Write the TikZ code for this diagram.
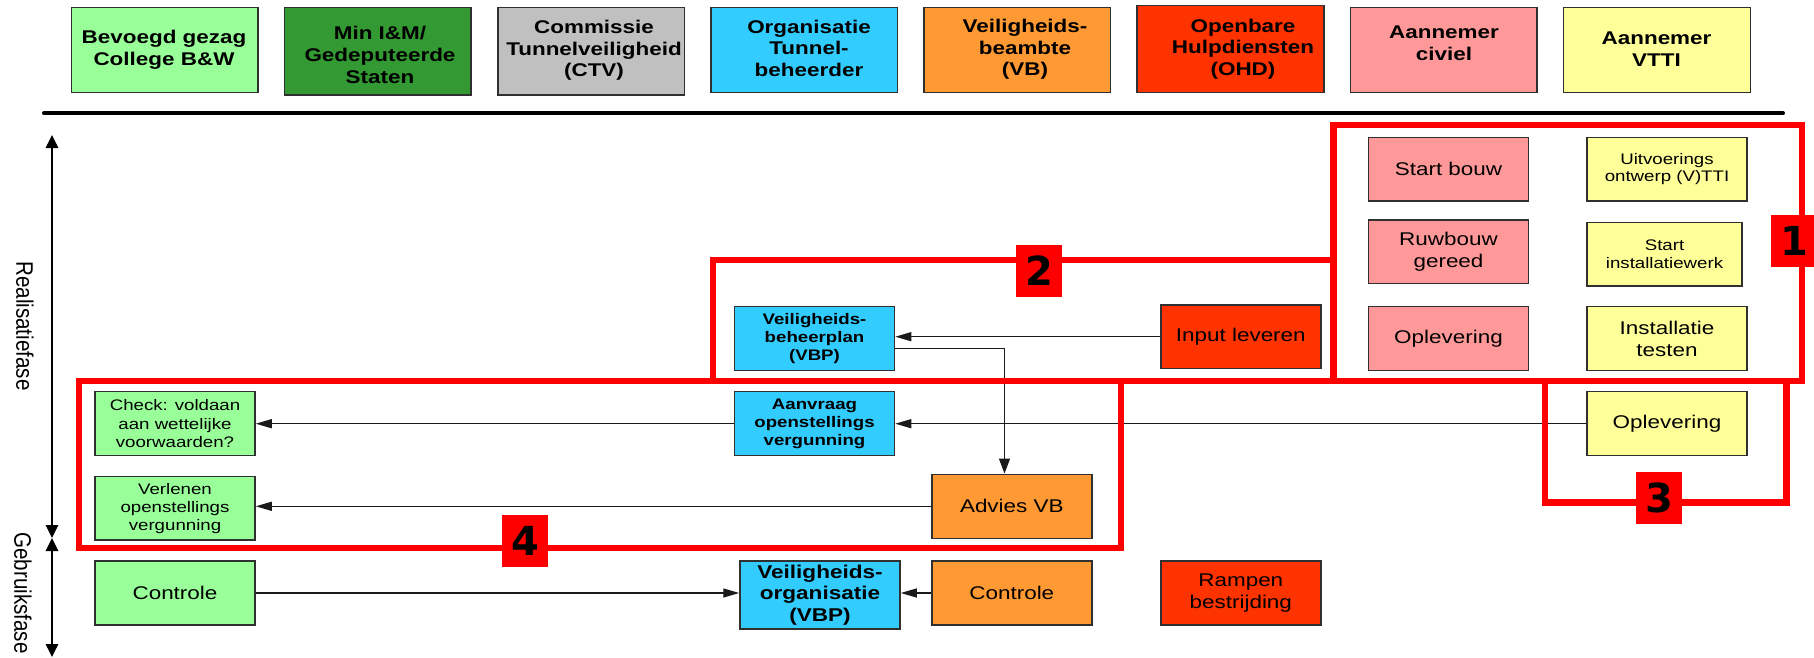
\documentclass[tikz,border=0pt]{standalone}
\usepackage{fontspec}
\setmainfont{Liberation Sans}
\newfontfamily\stsans[FakeStretch=1.22]{Liberation Sans}
\newfontfamily\plainsans{Liberation Sans}
\newfontfamily\digitfont{DejaVu Sans}
\usetikzlibrary{arrows.meta}
\definecolor{cLG}{HTML}{99FF99}
\definecolor{cDG}{HTML}{339933}
\definecolor{cGR}{HTML}{C0C0C0}
\definecolor{cCY}{HTML}{33CCFF}
\definecolor{cOR}{HTML}{FF9933}
\definecolor{cRO}{HTML}{FF3300}
\definecolor{cPK}{HTML}{FF9999}
\definecolor{cYE}{HTML}{FFFF99}
\definecolor{boxline}{HTML}{303030}
\definecolor{connc}{HTML}{1A1A1A}
\tikzset{
  box/.style={draw=boxline, line width=1.5pt, inner sep=0pt, align=center, text=black},
  hdr/.style={box, minimum width=186.6pt, minimum height=85pt},
  bw/.style={box, minimum width=160pt, minimum height=64pt},
  htext/.style={inner sep=0pt, align=center, font=\stsans\bfseries\fontsize{18.4}{21.6}\selectfont},
  bigreg/.style={font=\stsans\fontsize{18.4}{21.7}\selectfont},
  bigbold/.style={font=\stsans\bfseries\fontsize{18.5}{21.7}\selectfont},
  smallreg/.style={font=\stsans\fontsize{15.3}{18.2}\selectfont},
  smallbold/.style={font=\stsans\bfseries\fontsize{15.3}{18.2}\selectfont},
  conn/.style={draw=connc, line width=1.3pt},
  harr/.style={conn, -{Triangle[length=16pt,width=9pt]}},
  varr/.style={conn, -{Triangle[length=15pt,width=11pt]}},
  axisarr/.style={draw=black, line width=1.6pt, {Triangle[length=13pt,width=12.5pt]}-{Triangle[length=13pt,width=12.5pt]}},
  frame/.style={draw=red, line width=6.5pt, line join=miter},
  numbox/.style={fill=red, minimum width=46pt, minimum height=52pt, inner sep=0pt, text=black, font=\digitfont\bfseries\fontsize{40}{40}\selectfont},
  axlabel/.style={inner sep=0pt, rotate=-90, font=\plainsans\fontsize{20.6}{22}\selectfont}
}
\begin{document}
\begin{tikzpicture}[x=1pt,y=-1pt]
\useasboundingbox (0,0) rectangle (1814,658);
% header boxes
\node[hdr, fill=cLG] (h1) at (164.9,49.8) {};
\node[hdr, fill=cDG, minimum height=87.7pt] (h2) at (377.9,51.2) {};
\node[hdr, fill=cGR, minimum height=87.7pt] (h3) at (591.3,51.2) {};
\node[hdr, fill=cCY] (h4) at (804.3,49.8) {};
\node[hdr, fill=cOR] (h5) at (1017.2,49.8) {};
\node[hdr, fill=cRO, minimum height=86.6pt] (h6) at (1230.5,49.0) {};
\node[hdr, fill=cPK] (h7) at (1443.9,49.8) {};
\node[hdr, fill=cYE] (h8) at (1657.0,49.8) {};
\node[htext] (t1) at (164,49.5) {Bevoegd gezag\\College B\&W};
\node[htext] (t2) at (380,55) {Min I\&M/\\Gedeputeerde\\Staten};
\node[htext] (t3) at (594,50.3) {Commissie\\Tunnelveiligheid\\(CTV)};
\node[htext] (t4) at (809,48.3) {Organisatie\\Tunnel-\\beheerder};
\node[htext] (t5) at (1025,49.5) {Veiligheids-\\beambte\\(VB)};
\node[htext] (t6) at (1243,49.2) {Openbare\\Hulpdiensten\\(OHD)};
\node[htext] (t7) at (1444,43) {Aannemer\\civiel};
\node[htext] (t8) at (1656.5,49) {Aannemer\\VTTI};
% rule
\coordinate (rl) at (44,113.3);
\coordinate (rr) at (1783,113.3);
\draw[line width=4pt, line cap=round] (rl) -- (rr);
% axis
\coordinate (axtop) at (52,135);
\coordinate (axmid) at (52,538);
\coordinate (axbot) at (52,657);
\draw[axisarr] (axmid) -- (axtop);
\draw[axisarr] (axmid) -- (axbot);
\node[axlabel] (lreal) at (25,326) {\scalebox{1}[1.16]{Realisatiefase}};
\node[axlabel] (lgebr) at (23,593) {\scalebox{1}[1.16]{Gebruiksfase}};
% body boxes
\node[bw, fill=cPK, minimum height=63.3pt, bigreg] (startb) at (1448.5,169.3) {Start bouw};
\node[bw, fill=cYE, minimum height=63.3pt, font=\stsans\fontsize{15.3}{17}\selectfont] (uitv) at (1667,169.3) {Uitvoerings\\ontwerp (V)TTI};
\node[bw, fill=cPK, minimum height=63.7pt, bigreg] (ruwb) at (1448.5,251.8) {Ruwbouw\\gereed};
\node[bw, fill=cYE, minimum width=155pt, minimum height=63.7pt, smallreg] (starti) at (1664.5,254.2) {Start\\installatiewerk};
\node[bw, fill=cPK, bigreg] (oplp) at (1448.5,338.7) {Oplevering};
\node[bw, fill=cYE, bigreg] (insttest) at (1667,338.7) {Installatie\\testen};
\node[bw, fill=cYE, bigreg] (oply) at (1667,423.7) {Oplevering};
\node[bw, fill=cCY, smallbold] (vbp) at (814.5,338.7) {Veiligheids-\\beheerplan\\(VBP)};
\node[bw, fill=cRO, minimum height=63.3pt, bigreg] (inp) at (1240.8,336.7) {Input leveren};
\node[bw, fill=cCY, smallbold] (aanv) at (814.5,423.7) {Aanvraag\\openstellings\\vergunning};
\node[bw, fill=cOR, bigreg] (advies) at (1011.8,506.3) {Advies VB};
\node[bw, fill=cCY, minimum height=68pt, bigbold] (vorg) at (820,595) {Veiligheids-\\organisatie\\(VBP)};
\node[bw, fill=cOR, bigreg] (ctrlo) at (1011.8,593) {Controle};
\node[bw, fill=cRO, bigreg] (ramp) at (1240.8,593) {Rampen\\bestrijding};
\node[bw, fill=cLG, smallreg] (check) at (175,423.7) {Check: voldaan\\aan wettelijke\\voorwaarden?};
\node[bw, fill=cLG, minimum height=63.3pt, smallreg] (verl) at (175,508.3) {Verlenen\\openstellings\\vergunning};
\node[bw, fill=cLG, bigreg] (ctrlg) at (175,593) {Controle};
% connectors
\draw[harr] (inp.west) -- (vbp.east |- inp.west);
\coordinate (bend) at (1004.5,348.3);
\draw[varr] (vbp.east |- bend) -- (bend) -- (bend |- advies.north);
\draw[harr] (oply.west) -- (aanv.east);
\draw[harr] (aanv.west) -- (check.east);
\draw[harr] (advies.west) -- (verl.east |- advies.west);
\draw[harr] (ctrlg.east) -- (vorg.west |- ctrlg.east);
\draw[harr] (ctrlo.west) -- (vorg.east |- ctrlo.west);
% red frames
\draw[frame] (1333.7,125) rectangle (1802,381);
\draw[frame] (713,260) rectangle (1333.7,381);
\draw[frame] (79,381) rectangle (1121,548);
\draw[frame, line cap=rect] (1545,381) -- (1545,502.5) -- (1786.7,502.5) -- (1786.7,381);
\node[numbox] (n1) at (1794,241) {1};
\node[numbox] (n2) at (1039,271) {2};
\node[numbox] (n3) at (1659,498) {3};
\node[numbox] (n4) at (525,541) {4};
\end{tikzpicture}
\end{document}
